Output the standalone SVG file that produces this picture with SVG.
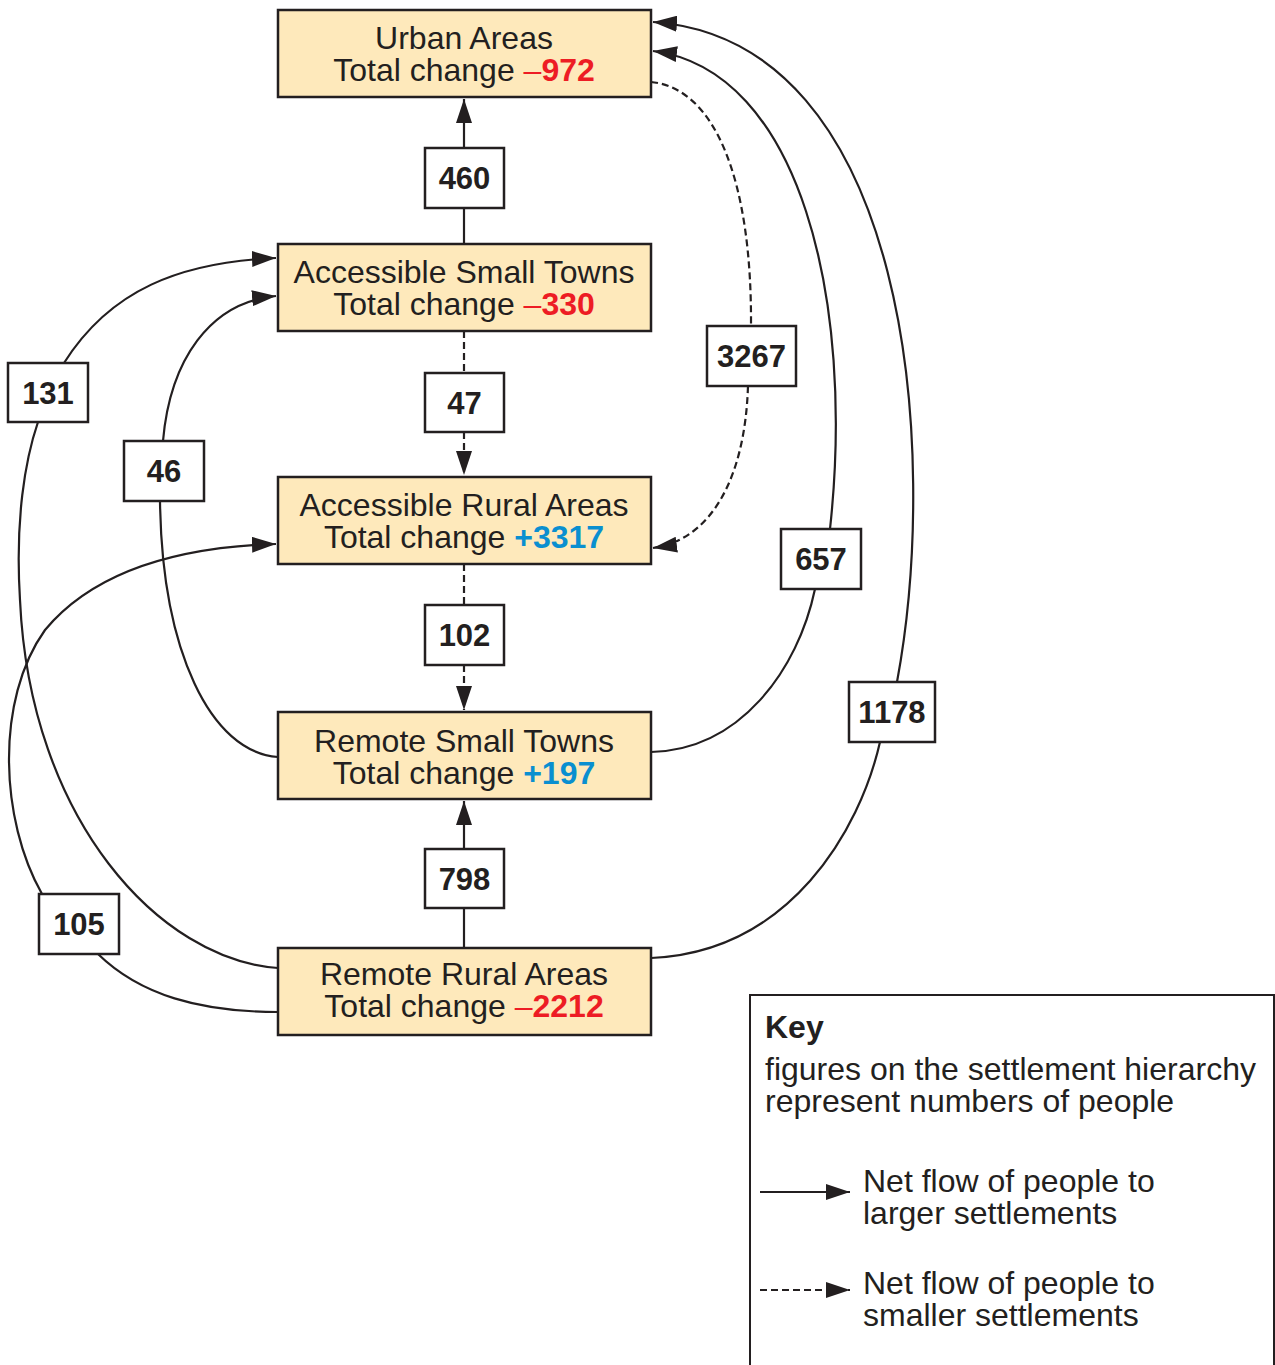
<svg xmlns="http://www.w3.org/2000/svg" width="1275" height="1365" viewBox="0 0 1275 1365">
<style>
.node{fill:#fee9bb;stroke:#231f20;stroke-width:2.5}
.lbl{fill:#fff;stroke:#231f20;stroke-width:2.5}
.t{font-family:"Liberation Sans",Arial,sans-serif;font-size:32px;fill:#231f20;text-anchor:middle}
.n{font-family:"Liberation Sans",Arial,sans-serif;font-size:31px;font-weight:bold;fill:#231f20;text-anchor:middle}
.red{fill:#ed1c24}
.blue{fill:#0a8fd0}
.b{font-weight:bold}
.c{fill:none;stroke:#231f20;stroke-width:2.2}
.d{stroke-dasharray:7 4}
.k{font-family:"Liberation Sans",Arial,sans-serif;font-size:32px;fill:#231f20}
</style>
<defs>
<marker id="ah" markerUnits="userSpaceOnUse" markerWidth="26" markerHeight="16" refX="24" refY="8" orient="auto">
<path d="M0,0 L24,8 L0,16 Z" fill="#231f20"/>
</marker>
</defs>
<g id="connectors">
<path class="c" d="M464,148 L464,99" marker-end="url(#ah)"/>
<path class="c" d="M464,244 L464,208"/>
<path class="c d" d="M464,331 L464,373"/>
<path class="c d" d="M464,432 L464,475" marker-end="url(#ah)"/>
<path class="c d" d="M464,564 L464,605"/>
<path class="c d" d="M464,665 L464,710" marker-end="url(#ah)"/>
<path class="c" d="M464,948 L464,908"/>
<path class="c" d="M464,849 L464,801" marker-end="url(#ah)"/>
<path class="c d" d="M651,82 C715,88 752,180 751,326"/>
<path class="c d" d="M748,386 C745,480 710,540 653,548" marker-end="url(#ah)"/>
<path class="c" d="M651,752 C740,750 798,670 815,589"/>
<path class="c" d="M830,529 C855,300 800,70 653,51" marker-end="url(#ah)"/>
<path class="c" d="M651,958 C790,952 860,830 880,742"/>
<path class="c" d="M897,682 C940,450 910,40 653,22" marker-end="url(#ah)"/>
<path class="c" d="M278,968 C160,960 30,820 20,600 C15,520 25,460 38,422"/>
<path class="c" d="M64,363 C110,290 180,262 276,258" marker-end="url(#ah)"/>
<path class="c" d="M278,757 C210,752 162,650 160,501"/>
<path class="c" d="M163,441 C170,360 210,302 276,296" marker-end="url(#ah)"/>
<path class="c" d="M278,1012 C200,1012 140,995 98,954"/>
<path class="c" d="M42,894 C0,820 -5,700 45,630 C95,570 180,547 276,544" marker-end="url(#ah)"/>
</g>
<g id="urban"><rect class="node" x="278" y="10" width="373" height="87"/>
<text class="t" x="464" y="49">Urban Areas</text>
<text class="t" x="464" y="81">Total change <tspan class="red">–</tspan><tspan class="red b">972</tspan></text></g>
<g id="ast"><rect class="node" x="278" y="244" width="373" height="87"/>
<text class="t" x="464" y="283">Accessible Small Towns</text>
<text class="t" x="464" y="315">Total change <tspan class="red">–</tspan><tspan class="red b">330</tspan></text></g>
<g id="ara"><rect class="node" x="278" y="477" width="373" height="87"/>
<text class="t" x="464" y="516">Accessible Rural Areas</text>
<text class="t" x="464" y="548">Total change <tspan class="blue b">+3317</tspan></text></g>
<g id="rst"><rect class="node" x="278" y="712" width="373" height="87"/>
<text class="t" x="464" y="752">Remote Small Towns</text>
<text class="t" x="464" y="784">Total change <tspan class="blue b">+197</tspan></text></g>
<g id="rra"><rect class="node" x="278" y="948" width="373" height="87"/>
<text class="t" x="464" y="985">Remote Rural Areas</text>
<text class="t" x="464" y="1017">Total change <tspan class="red">–</tspan><tspan class="red b">2212</tspan></text></g>
<g id="l460"><rect class="lbl" x="425" y="148" width="79" height="60"/><text class="n" x="464.5" y="189">460</text></g>
<g id="l47"><rect class="lbl" x="425" y="373" width="79" height="59"/><text class="n" x="464.5" y="414">47</text></g>
<g id="l102"><rect class="lbl" x="425" y="605" width="79" height="60"/><text class="n" x="464.5" y="646">102</text></g>
<g id="l798"><rect class="lbl" x="425" y="849" width="79" height="59"/><text class="n" x="464.5" y="890">798</text></g>
<g id="l131"><rect class="lbl" x="8" y="363" width="80" height="59"/><text class="n" x="48" y="404">131</text></g>
<g id="l46"><rect class="lbl" x="124" y="441" width="80" height="60"/><text class="n" x="164" y="482">46</text></g>
<g id="l3267"><rect class="lbl" x="707" y="326" width="89" height="60"/><text class="n" x="751.5" y="367">3267</text></g>
<g id="l657"><rect class="lbl" x="781" y="529" width="80" height="60"/><text class="n" x="821" y="570">657</text></g>
<g id="l1178"><rect class="lbl" x="849" y="682" width="86" height="60"/><text class="n" x="892" y="723">1178</text></g>
<g id="l105"><rect class="lbl" x="39" y="894" width="80" height="60"/><text class="n" x="79" y="935">105</text></g>
<g id="key">
<rect x="750" y="995" width="524" height="380" fill="#fff" stroke="#231f20" stroke-width="2"/>
<text class="k b" x="765" y="1038">Key</text>
<text class="k" x="765" y="1080">figures on the settlement hierarchy</text>
<text class="k" x="765" y="1112">represent numbers of people</text>
<path class="c" d="M760,1192 L850,1192" marker-end="url(#ah)"/>
<text class="k" x="863" y="1192">Net flow of people to</text>
<text class="k" x="863" y="1224">larger settlements</text>
<path class="c d" d="M760,1290 L850,1290" marker-end="url(#ah)"/>
<text class="k" x="863" y="1294">Net flow of people to</text>
<text class="k" x="863" y="1326">smaller settlements</text>
</g>
</svg>
